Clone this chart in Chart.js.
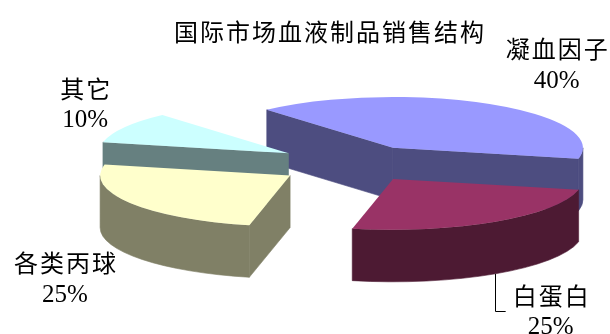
<!DOCTYPE html>
<html>
<head>
<meta charset="utf-8">
<script src="https://cdn.jsdelivr.net/npm/chart.js@4/dist/chart.umd.min.js"></script>
<style>
  html, body { margin: 0; padding: 0; background: #fff; }
  #wrap { width: 610px; height: 334px; position: relative; }
</style>
</head>
<body>
<div id="wrap"><canvas id="pieChart"></canvas></div>
<script>
const chartTitle = '国际市场血液制品销售结构';
const categories = ['凝血因子', '白蛋白', '各类丙球', '其它'];
const shares = [40, 25, 25, 10];
const explode = [70, 66, 80, 80];

const topColors = ['#9999FF', '#993366', '#FFFFCC', '#CCFFFF'];

// fake 3D view: squash of the pie plane and slice thickness
const TILT = 0.268;
const DEPTH = 52;
const CJK_FONT = "24px 'Noto Sans CJK SC'";
const NUM_FONT = "25px 'Liberation Serif'";

// side walls are the top colour at half brightness
function darken(hex) {
    const n = parseInt(hex.slice(1), 16);
    const r = Math.round(((n >> 16) & 255) / 2);
    const g = Math.round(((n >> 8) & 255) / 2);
    const b = Math.round((n & 255) / 2);
    return `rgb(${r}, ${g}, ${b})`;
}

function drawSlice(ctx, s) {
    const { ax, ay, rx, ry, a0, a1, top } = s;
    const side = darken(top);
    const rim = (t, z) => [ax + rx * Math.cos(t), ay + ry * Math.sin(t) + z];

    ctx.save();
    ctx.fillStyle = side;
    ctx.strokeStyle = side;
    ctx.lineWidth = 0.6;

    // radial walls that face the viewer
    [[a0, Math.cos(a0) < 0], [a1, Math.cos(a1) > 0]].forEach(([t, show]) => {
        if (!show) return;
        const p = rim(t, 0);
        const q = rim(t, DEPTH);
        ctx.beginPath();
        ctx.moveTo(ax, ay);
        ctx.lineTo(p[0], p[1]);
        ctx.lineTo(q[0], q[1]);
        ctx.lineTo(ax, ay + DEPTH);
        ctx.closePath();
        ctx.fill();
        ctx.stroke();
    });

    // outer curved wall, only the front half is seen
    for (let k = -1; k <= 1; k++) {
        const lo = Math.max(a0, k * 2 * Math.PI);
        const hi = Math.min(a1, k * 2 * Math.PI + Math.PI);
        if (hi <= lo) continue;
        ctx.beginPath();
        ctx.ellipse(ax, ay, rx, ry, 0, lo, hi);
        ctx.ellipse(ax, ay + DEPTH, rx, ry, 0, hi, lo, true);
        ctx.closePath();
        ctx.fill();
        ctx.stroke();
    }

    // top face
    ctx.fillStyle = top;
    ctx.beginPath();
    ctx.moveTo(ax, ay);
    ctx.ellipse(ax, ay, rx, ry, 0, a0, a1);
    ctx.closePath();
    ctx.fill();
    ctx.restore();
}

const pie3d = {
    id: 'pie3d',
    beforeDatasetsDraw(chart) {
        const ctx = chart.ctx;
        const arcs = chart.getDatasetMeta(0).data;
        const slices = arcs.map((arc, i) => {
            const mid = (arc.startAngle + arc.endAngle) / 2;
            const off = arc.options.offset || 0;
            return {
                i: i,
                mid: mid,
                a0: arc.startAngle,
                a1: arc.endAngle,
                ax: arc.x + Math.cos(mid) * off,
                ay: arc.y + Math.sin(mid) * off * TILT,
                rx: arc.outerRadius,
                ry: arc.outerRadius * TILT,
                top: arc.options.backgroundColor
            };
        });
        // back slices first
        slices.slice().sort((a, b) => Math.sin(a.mid) - Math.sin(b.mid))
            .forEach(s => drawSlice(ctx, s));
        chart.$slices = slices;
        return false;
    },
    afterDraw(chart) {
        const ctx = chart.ctx;
        ctx.save();
        ctx.fillStyle = '#000';
        ctx.textAlign = 'center';
        ctx.textBaseline = 'middle';

        ctx.font = CJK_FONT;
        ctx.letterSpacing = '2px';
        ctx.fillText(chartTitle, 330, 32);

        (chart.$slices || []).forEach(s => {
            const c = Math.cos(s.mid);
            const sn = Math.sin(s.mid);
            const px = s.ax + c * s.rx * 1.1;
            const py = s.ay + sn * s.ry * 1.1 + (sn > 0 ? DEPTH : 0);
            const cy = py + sn * 40;
            const name = categories[s.i];
            const pct = shares[s.i] + '%';

            ctx.font = CJK_FONT;
            ctx.letterSpacing = '2px';
            const wName = ctx.measureText(name).width;
            ctx.font = NUM_FONT;
            ctx.letterSpacing = '0px';
            const wPct = ctx.measureText(pct).width;
            const w = Math.max(wName, wPct);
            const left = c > 0 ? px + 6 : px + 3 - w;
            const mx = left + w / 2;

            ctx.font = CJK_FONT;
            ctx.letterSpacing = '2px';
            ctx.fillText(name, mx + 1, cy - 16);
            ctx.font = NUM_FONT;
            ctx.letterSpacing = '0px';
            ctx.fillText(pct, mx, cy + 16);

            // leader line for labels pushed below the front slices
            if (sn > 0.7) {
                const bx = s.ax + c * s.rx;
                const by = s.ay + sn * s.ry + DEPTH;
                const ly = cy - 16 + 15;
                ctx.strokeStyle = '#000';
                ctx.lineWidth = 1;
                ctx.beginPath();
                ctx.moveTo(Math.round(bx) + 0.5, by);
                ctx.lineTo(Math.round(bx) + 0.5, Math.round(ly) + 0.5);
                ctx.lineTo(left - 6, Math.round(ly) + 0.5);
                ctx.stroke();
            }
        });
        ctx.restore();
    }
};

function renderPieChart() {
    const ctx = document.getElementById('pieChart').getContext('2d');
    new Chart(ctx, {
        type: 'pie',
        data: {
            labels: categories,
            datasets: [{
                data: shares,
                backgroundColor: topColors,
                offset: explode,
                borderWidth: 0
            }]
        },
        options: {
            responsive: true,
            maintainAspectRatio: false,
            animation: false,
            events: [],
            rotation: -41.6,
            radius: 190,
            layout: {
                padding: { left: 105, right: 0, top: 0, bottom: 6 }
            },
            plugins: {
                legend: { display: false },
                tooltip: { enabled: false },
                title: { display: false }
            }
        },
        plugins: [pie3d]
    });
}

document.addEventListener('DOMContentLoaded', renderPieChart);
</script>
</body>
</html>
